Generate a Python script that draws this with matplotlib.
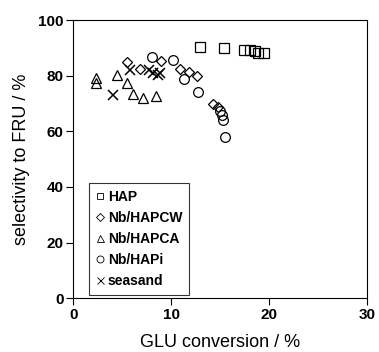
import matplotlib
matplotlib.use("Agg")
import matplotlib.pyplot as plt

plt.rcParams['font.family'] = ['Liberation Sans', 'DejaVu Sans']

hap_x = [13.0, 15.4, 17.5, 18.1, 18.6, 18.9, 19.5]
hap_y = [90.4, 89.8, 89.2, 89.2, 88.8, 88.0, 88.0]

cw_x = [5.5, 6.8, 9.0, 10.9, 11.8, 12.6, 14.3, 14.8]
cw_y = [85.0, 82.4, 85.2, 82.4, 81.2, 79.9, 69.7, 68.8]

ca_x = [2.3, 2.3, 4.5, 5.5, 6.1, 7.1, 8.5]
ca_y = [79.0, 77.5, 80.2, 77.2, 73.3, 72.1, 72.8]

hapi_x = [8.1, 10.2, 11.3, 12.8, 15.0, 15.2, 15.3, 15.5]
hapi_y = [86.8, 85.6, 78.8, 74.2, 67.3, 65.8, 64.0, 58.0]

sea_x = [4.1, 5.8, 7.7, 8.2, 8.7, 8.9]
sea_y = [73.0, 82.0, 82.0, 80.8, 80.2, 80.8]

labels = ["HAP", "Nb/HAPCW", "Nb/HAPCA", "Nb/HAPi", "seasand"]

fig = plt.figure(figsize=(3.79, 3.52), dpi=100)
ax = fig.add_axes([0.193, 0.153, 0.775, 0.790])

kw = dict(linestyle='none', markerfacecolor='none', markeredgecolor='black',
          markeredgewidth=0.9)
ax.plot(hap_x, hap_y, marker='s', markersize=6.5, label=labels[0], **kw)
ax.plot(cw_x, cw_y, marker='D', markersize=5.5, label=labels[1], **kw)
ax.plot(ca_x, ca_y, marker='^', markersize=7, label=labels[2], **kw)
ax.plot(hapi_x, hapi_y, marker='o', markersize=7, label=labels[3], **kw)
ax.plot(sea_x, sea_y, marker='x', markersize=7, label=labels[4],
        linestyle='none', color='black', markeredgewidth=1.1)

ax.set_xlim(0, 30)
ax.set_ylim(0, 100)
ax.set_xticks([0, 10, 20, 30])
ax.set_yticks([0, 20, 40, 60, 80, 100])
ax.tick_params(direction='out', length=5, width=0.8, labelsize=11, pad=2)
for lbl in ax.get_xticklabels() + ax.get_yticklabels():
    lbl.set_fontweight('bold')
for s in ax.spines.values():
    s.set_linewidth(0.8)

ax.set_xlabel("GLU conversion / %", fontsize=13, labelpad=9)
ax.set_ylabel("selectivity to FRU / %", fontsize=13, labelpad=6)

leg = ax.legend(loc='lower left', bbox_to_anchor=(0.043, 0.0),
                prop={'size': 10, 'weight': 'bold'},
                frameon=True, fancybox=False, handlelength=0.6,
                handletextpad=0.25, borderpad=0.5, labelspacing=0.5,
                markerscale=0.72, borderaxespad=0.25)
leg.get_frame().set_edgecolor('black')
leg.get_frame().set_linewidth(0.8)
for h in leg.legend_handles:
    h.set_markeredgewidth(0.6)

fig.savefig("out.png", dpi=100)
